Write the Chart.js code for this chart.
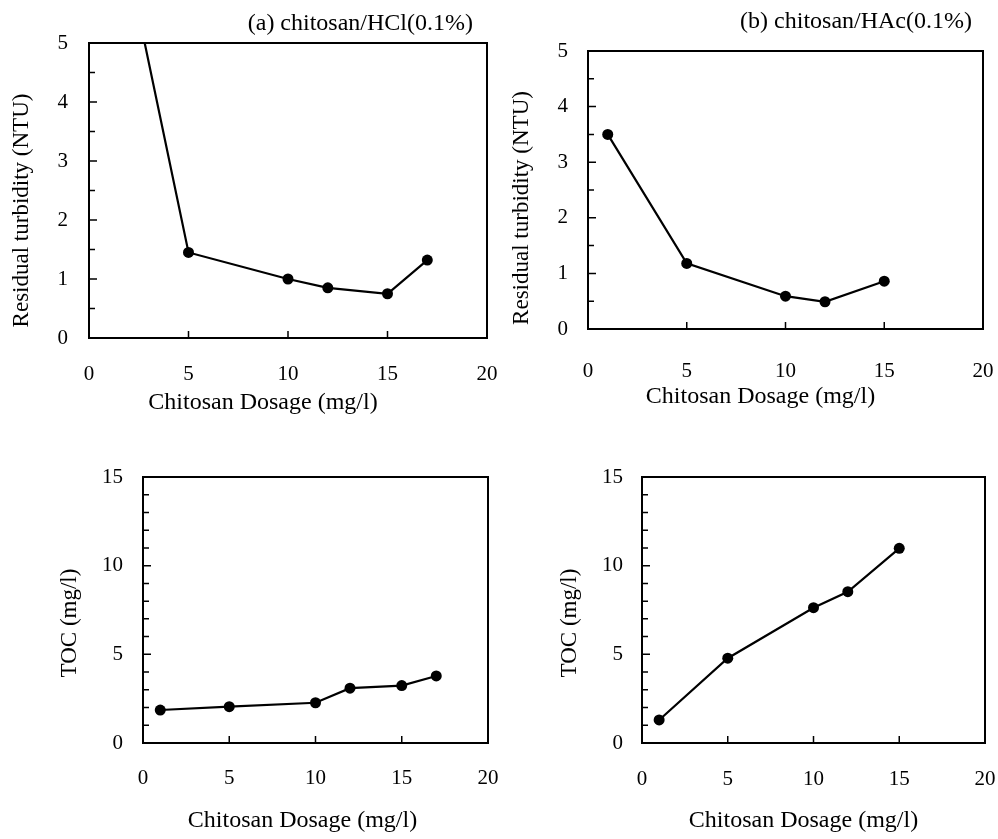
<!DOCTYPE html>
<html lang="en">
<head>
    <meta charset="UTF-8">
    <title>Chitosan Dosage</title>
    <style>
        body {
            margin: 0;
            background-color: #fff;
        }
        canvas {
            position: absolute;
        }
    </style>
</head>
<body>
    <canvas id="chartA" width="499" height="420" style="left:0;top:0"></canvas>
    <canvas id="chartB" width="498" height="420" style="left:500px;top:0"></canvas>
    <canvas id="chartC" width="499" height="419" style="left:0;top:420px"></canvas>
    <canvas id="chartD" width="498" height="419" style="left:500px;top:420px"></canvas>

    <script src="https://cdn.jsdelivr.net/npm/chart.js"></script>

    <script>
        // Chitosan dosage (mg/l) for each acid
        const dosageHCl = [1, 5, 10, 12, 15, 17];
        const dosageHAc = [1, 5, 10, 12, 15];

        // Residual turbidity (NTU); first HCl point runs off the top of the plot
        const turbidityHCl = [7.9, 1.45, 1.0, 0.85, 0.75, 1.32];
        const turbidityHAc = [3.5, 1.18, 0.59, 0.49, 0.86];

        // TOC (mg/l)
        const tocHCl = [1.86, 2.05, 2.27, 3.09, 3.24, 3.78];
        const tocHAc = [1.3, 4.78, 7.63, 8.53, 10.98];

        // Labelled ticks
        const dosageTicks = [0, 5, 10, 15, 20];
        const turbidityTicks = [0, 1, 2, 3, 4, 5];
        const tocTicks = [0, 5, 10, 15];

        const serif = '"Liberation Serif", "Times New Roman", serif';

        // frame round the plot, inward tick marks, axis titles and the panel caption
        const framePlugin = {
            id: 'frame',
            afterDraw(chart, args, opts) {
                const ctx = chart.ctx;
                const area = chart.chartArea;
                const xs = chart.scales.x;
                const ys = chart.scales.y;
                const midX = (area.left + area.right) / 2;
                const midY = (area.top + area.bottom) / 2;
                ctx.save();
                ctx.strokeStyle = '#000';
                ctx.lineWidth = 2;
                ctx.strokeRect(area.left, area.top, area.right - area.left, area.bottom - area.top);
                ctx.lineWidth = 1.5;
                ctx.beginPath();
                ys.ticks.forEach((t, i) => {
                    if (t.value <= ys.min || t.value >= ys.max) return;
                    const py = ys.getPixelForTick(i);
                    ctx.moveTo(area.left, py);
                    ctx.lineTo(area.left + (t.label ? 8 : 6), py);
                });
                xs.ticks.forEach((t, i) => {
                    if (t.value <= xs.min || t.value >= xs.max) return;
                    const px = xs.getPixelForTick(i);
                    ctx.moveTo(px, area.bottom);
                    ctx.lineTo(px, area.bottom - 7);
                });
                ctx.stroke();

                ctx.fillStyle = '#000';
                ctx.textBaseline = 'alphabetic';
                // x axis title
                ctx.font = '24px ' + serif;
                ctx.textAlign = 'center';
                ctx.fillText(opts.xTitle, midX + opts.xTitleDx, opts.xTitleBase);
                // y axis title, turned
                ctx.save();
                ctx.font = '23px ' + serif;
                ctx.textBaseline = 'middle';
                ctx.translate(opts.yTitleX, midY + opts.yTitleDy);
                ctx.rotate(-Math.PI / 2);
                ctx.fillText(opts.yTitle, 0, 0);
                ctx.restore();
                // caption
                if (opts.caption) {
                    ctx.font = '24px ' + serif;
                    ctx.textAlign = 'right';
                    ctx.fillText(opts.caption, opts.captionX, opts.captionBase);
                }
                ctx.restore();
            }
        };

        function makePanel(id, xData, yData, yMax, yStep, yLabels, yTitle, lay) {
            const points = xData.map((x, i) => ({ x: x, y: yData[i] }));
            return new Chart(document.getElementById(id), {
                type: 'line',
                data: {
                    datasets: [{
                        data: points,
                        borderColor: '#000',
                        borderWidth: 2.2,
                        pointRadius: 5.5,
                        pointBackgroundColor: '#000',
                        pointBorderWidth: 0,
                        tension: 0,
                        fill: false
                    }]
                },
                options: {
                    responsive: false,
                    animation: false,
                    layout: { padding: { top: lay.top, right: lay.right, left: 0, bottom: 0 } },
                    plugins: {
                        legend: { display: false },
                        tooltip: { enabled: false },
                        frame: {
                            xTitle: 'Chitosan Dosage (mg/l)', xTitleDx: lay.xTitleDx, xTitleBase: lay.xTitleBase,
                            yTitle: yTitle, yTitleX: lay.yTitleX, yTitleDy: lay.yTitleDy,
                            caption: lay.caption, captionX: lay.captionX, captionBase: lay.captionBase
                        }
                    },
                    scales: {
                        x: {
                            type: 'linear',
                            min: 0,
                            max: 20,
                            grid: { display: false, drawTicks: false },
                            border: { display: false },
                            ticks: {
                                stepSize: 5,
                                maxRotation: 0,
                                autoSkip: false,
                                padding: lay.xTickPad,
                                color: '#000',
                                font: { family: serif, size: 21 },
                                callback: v => dosageTicks.includes(v) ? String(v) : ''
                            },
                            afterFit: s => {
                                s.height = lay.xHeight;
                                s.paddingLeft = 0;
                                s.paddingRight = 0;
                            }
                        },
                        y: {
                            min: 0,
                            max: yMax,
                            grid: { display: false, drawTicks: false },
                            border: { display: false },
                            ticks: {
                                stepSize: yStep,
                                autoSkip: false,
                                padding: lay.yTickPad,
                                color: '#000',
                                font: { family: serif, size: 21 },
                                callback: v => yLabels.includes(v) ? String(v) : ''
                            },
                            afterFit: s => {
                                s.width = lay.yWidth;
                                s.paddingTop = 0;
                                s.paddingBottom = 0;
                            }
                        }
                    }
                },
                plugins: [framePlugin]
            });
        }

        makePanel('chartA', dosageHCl, turbidityHCl, 5, 0.5, turbidityTicks, 'Residual turbidity (NTU)', {
            top: 43, right: 12, yWidth: 89, xHeight: 82,
            yTickPad: 21, xTickPad: 24,
            xTitleDx: -25, xTitleBase: 409, yTitleX: 22, yTitleDy: 20,
            caption: '(a) chitosan/HCl(0.1%)', captionX: 473, captionBase: 30
        });
        makePanel('chartB', dosageHAc, turbidityHAc, 5, 0.5, turbidityTicks, 'Residual turbidity (NTU)', {
            top: 51, right: 15, yWidth: 88, xHeight: 91,
            yTickPad: 20, xTickPad: 30,
            xTitleDx: -25, xTitleBase: 403, yTitleX: 22, yTitleDy: 18,
            caption: '(b) chitosan/HAc(0.1%)', captionX: 472, captionBase: 28
        });
        makePanel('chartC', dosageHCl, tocHCl, 15, 1, tocTicks, 'TOC (mg/l)', {
            top: 57, right: 11, yWidth: 143, xHeight: 96,
            yTickPad: 20, xTickPad: 23,
            xTitleDx: -13, xTitleBase: 407, yTitleX: 70, yTitleDy: 13
        });
        makePanel('chartD', dosageHAc, tocHAc, 15, 1, tocTicks, 'TOC (mg/l)', {
            top: 57, right: 13, yWidth: 142, xHeight: 96,
            yTickPad: 19, xTickPad: 24,
            xTitleDx: -10, xTitleBase: 407, yTitleX: 70, yTitleDy: 13
        });
    </script>
</body>
</html>
